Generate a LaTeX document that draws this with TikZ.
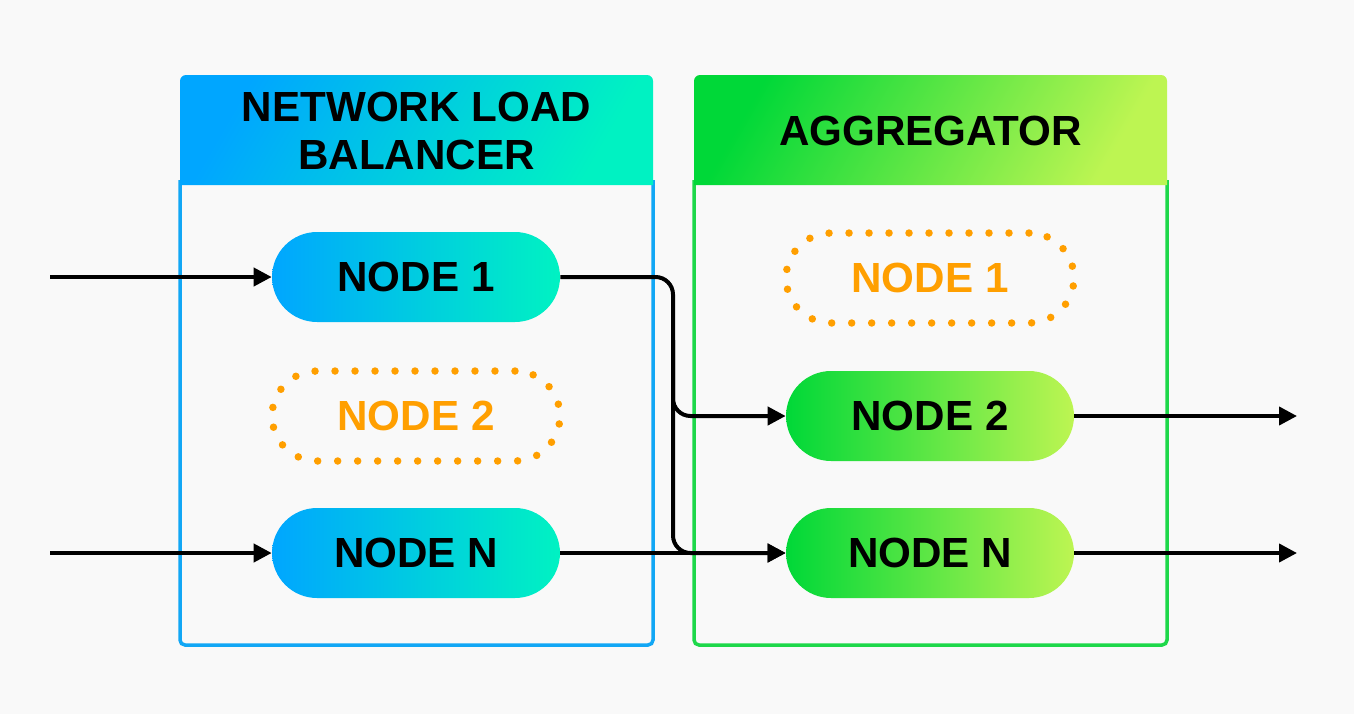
\documentclass[tikz,border=0pt]{standalone}
\usepackage{fontspec}
\setmainfont{Liberation Sans}
\usepackage{xcolor}
\usepackage{tikz}
\usetikzlibrary{arrows.meta,positioning,calc}
\definecolor{canvas}{HTML}{F9F9F9}
\definecolor{nlbA}{HTML}{00A6FF}
\definecolor{nlbB}{HTML}{00F2C2}
\definecolor{aggA}{HTML}{00D838}
\definecolor{aggB}{HTML}{BDF552}
\definecolor{nlbline}{HTML}{12A7F5}
\definecolor{aggline}{HTML}{1ED84A}
\definecolor{idle}{HTML}{FF9F00}

\begin{document}
\begin{tikzpicture}[
    x=0.02cm, y=-0.02cm,
    font=\bfseries\fontsize{24}{27}\selectfont,
    pill/.style={rectangle, rounded corners=0.9cm, minimum width=5.76cm, minimum height=1.8cm, align=center, inner sep=0pt},
    live/.style={pill, shading angle=90, left color=#1A, right color=#1B},
    down/.style={pill, draw=idle, text=idle, line width=0.15cm, dash pattern=on 0pt off 0.4cm, line cap=round},
    title/.style={align=center, inner sep=0pt},
    frame/.style={line width=0.07cm, rounded corners=0.1cm},
    link/.style={-{Triangle[length=0.36cm,width=0.36cm]}, line width=0.08cm, black, rounded corners=0.35cm}
]
    % Canvas
    \fill[canvas] (0,0) rectangle (1354,714);
    \useasboundingbox (0,0) rectangle (1354,714);

    % Load balancer box
    \draw[frame, nlbline] (180,180) -- (180,645) -- (653,645) -- (653,180);
    \shade[left color=nlbA, right color=nlbB, shading angle=60]
        (180,185) [rounded corners=0.12cm] -- (180,75) -- (653,75) [sharp corners] -- (653,185) -- cycle;
    \node[title] (nlbtitle) at (416.5,131) {NETWORK LOAD\\BALANCER};

    % Aggregator box
    \draw[frame, aggline] (694,180) -- (694,645) -- (1167,645) -- (1167,180);
    \shade[left color=aggA, right color=aggB, shading angle=60]
        (694,185) [rounded corners=0.12cm] -- (694,75) -- (1167,75) [sharp corners] -- (1167,185) -- cycle;
    \node[title] (aggtitle) at (930.5,131) {AGGREGATOR};

    % Load balancer nodes
    \node[live=nlb] (lb1) at (416,277) {NODE 1};
    \node[down] (lb2) at (416,416) {NODE 2};
    \node[live=nlb] (lbN) at (416,553) {NODE N};

    % Aggregator nodes
    \node[down] (ag1) at (930,278) {NODE 1};
    \node[live=agg] (ag2) at (930,416) {NODE 2};
    \node[live=agg] (agN) at (930,553) {NODE N};

    % Ends
    \coordinate (in1) at (50,277);
    \coordinate (inN) at (50,553);
    \coordinate (out2) at (1297,416);
    \coordinate (outN) at (1297,553);
    \coordinate (bus) at (673,277);
    \coordinate (drop) at (673,340);

    % Links
    \draw[link] (in1) -- (lb1.west);
    \draw[link] (inN) -- (lbN.west);
    \draw[link] (lb1.east) -- (bus) |- (ag2.west);
    \draw[link] (drop) |- (agN.west);
    \draw[link] (lbN.east) -- (agN.west);
    \draw[link] (ag2.east) -- (out2);
    \draw[link] (agN.east) -- (outN);
\end{tikzpicture}
\end{document}
